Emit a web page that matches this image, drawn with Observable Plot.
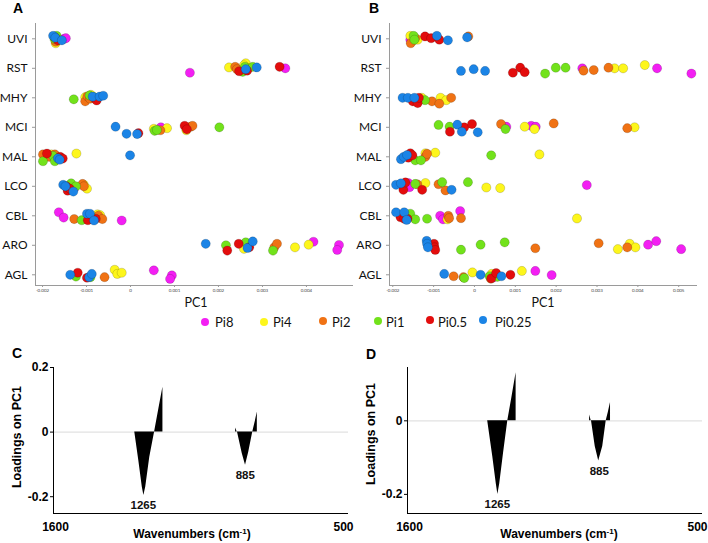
<!DOCTYPE html>
<html><head><meta charset="utf-8">
<script src="https://cdn.jsdelivr.net/npm/d3@7"></script>
<script src="https://cdn.jsdelivr.net/npm/@observablehq/plot@0.6"></script>
<style>
body{margin:0;background:#fff}
#fig{position:relative;width:708px;height:543px;overflow:hidden;background:#fff}
.panel{position:absolute}
#overlay{position:absolute;left:0;top:0}
</style>
</head><body><div id="fig"></div>
<script>
// ---------- data ----------
const categories = ["UVI","RST","MHY","MCI","MAL","LCO","CBL","ARO","AGL"]; // top to bottom
const treatments = ["Pi8","Pi4","Pi2","Pi1","Pi0.5","Pi0.25"];
const treatmentColors = ["#f31ff3","#fdf61c","#f07214","#72e21b","#e30d0d","#1b84e6"];
const xTicksA = [-0.002,-0.001,0,0.001,0.002,0.003,0.004];
const xTicksB = [-0.002,-0.001,0,0.001,0.002,0.003,0.004,0.005];

// rows: [category, treatment, PC1 score (x 1e-3), vertical jitter (category units)]
const scoresA = [
["UVI","Pi8",-1.51,0],["UVI","Pi8",-1.47,0.02],["UVI","Pi4",-1.70,-0.15],["UVI","Pi2",-1.70,-0.1],
["UVI","Pi1",-1.68,0.1],["UVI","Pi1",-1.73,0],["UVI","Pi0.5",-1.72,0.05],["UVI","Pi0.5",-1.65,-0.05],
["UVI","Pi0.25",-1.76,0.1],["UVI","Pi0.25",-1.71,0.04],["UVI","Pi0.25",-1.56,-0.05],
["RST","Pi8",1.35,-0.15],["RST","Pi8",3.52,0],["RST","Pi4",2.24,0.03],["RST","Pi4",2.62,0.17],["RST","Pi4",2.58,0.1],
["RST","Pi2",2.38,0.05],["RST","Pi2",2.42,-0.03],["RST","Pi2",2.68,0],["RST","Pi1",2.55,-0.12],["RST","Pi1",2.60,0.05],
["RST","Pi1",2.78,0.05],["RST","Pi0.5",2.47,-0.1],["RST","Pi0.5",2.65,-0.08],["RST","Pi0.5",3.39,0.05],
["RST","Pi0.25",2.62,-0.03],["RST","Pi0.25",2.87,0.03],
["MHY","Pi4",-1.03,0.02],["MHY","Pi4",-0.90,0.1],["MHY","Pi2",-1.03,-0.12],["MHY","Pi2",-0.98,0.05],["MHY","Pi2",-0.92,-0.03],
["MHY","Pi1",-1.29,-0.05],["MHY","Pi1",-0.93,0.08],["MHY","Pi1",-0.83,0.02],["MHY","Pi0.5",-0.80,-0.03],["MHY","Pi0.5",-0.77,-0.09],
["MHY","Pi0.25",-0.86,0.04],["MHY","Pi0.25",-0.70,0.04],["MHY","Pi0.25",-0.62,0.07],
["MCI","Pi8",0.69,0],["MCI","Pi4",0.53,-0.05],["MCI","Pi4",0.83,-0.03],["MCI","Pi4",1.27,-0.1],
["MCI","Pi2",0.68,-0.1],["MCI","Pi2",1.37,0.02],["MCI","Pi2",1.41,0.05],["MCI","Pi1",0.55,-0.12],["MCI","Pi1",0.60,-0.09],
["MCI","Pi1",2.02,0],["MCI","Pi0.5",0.18,-0.2],["MCI","Pi0.5",1.23,0.05],["MCI","Pi0.5",1.28,-0.07],
["MCI","Pi0.25",-0.34,0.02],["MCI","Pi0.25",-0.09,-0.22],["MCI","Pi0.25",0.15,-0.23],
["MAL","Pi4",-1.80,0.08],["MAL","Pi4",-1.23,0.11],["MAL","Pi2",-1.99,0.08],["MAL","Pi2",-1.85,0],["MAL","Pi2",-1.72,0.08],
["MAL","Pi1",-1.99,-0.15],["MAL","Pi1",-1.76,0.03],["MAL","Pi1",-1.72,-0.15],["MAL","Pi0.5",-1.90,0.11],["MAL","Pi0.5",-1.60,0],
["MAL","Pi0.5",-1.54,-0.06],["MAL","Pi0.25",-1.65,-0.05],["MAL","Pi0.25",-1.61,-0.1],["MAL","Pi0.25",-0.01,0.05],
["LCO","Pi8",-1.27,-0.05],["LCO","Pi4",-1.06,0.05],["LCO","Pi4",-0.99,-0.08],["LCO","Pi2",-1.09,0.08],["LCO","Pi2",-1.06,0],
["LCO","Pi1",-1.35,0.1],["LCO","Pi1",-1.24,0],["LCO","Pi0.5",-1.46,0],["LCO","Pi0.5",-1.43,-0.15],["LCO","Pi0.5",-1.38,-0.08],
["LCO","Pi0.25",-1.53,0.05],["LCO","Pi0.25",-1.48,0],["LCO","Pi0.25",-1.30,-0.18],
["CBL","Pi8",-1.63,0.12],["CBL","Pi8",-1.52,-0.06],["CBL","Pi8",-0.20,-0.16],["CBL","Pi4",-0.75,0.05],["CBL","Pi4",-0.69,0.02],
["CBL","Pi2",-1.28,-0.11],["CBL","Pi2",-0.73,0],["CBL","Pi2",-0.64,-0.11],["CBL","Pi1",-1.11,-0.15],["CBL","Pi1",-0.88,-0.05],
["CBL","Pi0.5",-0.97,-0.15],["CBL","Pi0.5",-0.79,-0.1],["CBL","Pi0.25",-0.99,0.07],["CBL","Pi0.25",-0.92,0.07],["CBL","Pi0.25",-0.83,-0.16],
["ARO","Pi8",4.16,0.12],["ARO","Pi8",4.74,0.01],["ARO","Pi8",4.70,-0.16],["ARO","Pi4",2.58,-0.12],["ARO","Pi4",3.74,-0.07],
["ARO","Pi4",4.05,0.02],["ARO","Pi2",3.27,-0.07],["ARO","Pi2",3.33,0.05],["ARO","Pi1",2.17,0],["ARO","Pi1",2.62,0.1],
["ARO","Pi1",3.24,-0.18],["ARO","Pi0.5",2.20,-0.18],["ARO","Pi0.5",2.46,0.05],["ARO","Pi0.5",2.70,-0.07],
["ARO","Pi0.25",1.71,0.05],["ARO","Pi0.25",2.66,-0.09],["ARO","Pi0.25",2.78,0.13],
["AGL","Pi8",0.53,0.15],["AGL","Pi8",0.94,-0.02],["AGL","Pi8",0.90,-0.14],["AGL","Pi4",-0.36,0.17],["AGL","Pi4",-0.30,0.03],
["AGL","Pi4",-0.20,0.07],["AGL","Pi2",-0.59,-0.08],["AGL","Pi1",-1.24,-0.06],["AGL","Pi1",-0.91,-0.08],
["AGL","Pi0.5",-1.20,0.07],["AGL","Pi0.5",-0.99,-0.1],["AGL","Pi0.25",-1.37,0],["AGL","Pi0.25",-0.94,-0.08],["AGL","Pi0.25",-0.88,0.03]
];

const scoresB = [
["UVI","Pi8",-1.57,-0.03],["UVI","Pi4",-1.57,0.1],["UVI","Pi4",-1.39,-0.03],["UVI","Pi4",-1.52,-0.08],
["UVI","Pi2",-1.56,-0.15],["UVI","Pi2",-1.45,0.03],["UVI","Pi2",-0.15,0.08],["UVI","Pi1",-1.49,0.1],["UVI","Pi1",-1.47,-0.03],
["UVI","Pi0.5",-1.21,0.08],["UVI","Pi0.5",-1.06,0.02],["UVI","Pi0.5",-0.86,-0.03],
["UVI","Pi0.25",-0.92,0.1],["UVI","Pi0.25",-0.65,-0.05],["UVI","Pi0.25",-0.18,0.05],
["RST","Pi8",2.64,0],["RST","Pi8",4.47,0],["RST","Pi8",5.31,-0.18],["RST","Pi4",3.43,0],["RST","Pi4",3.64,0],["RST","Pi4",4.17,0.11],
["RST","Pi2",2.67,-0.08],["RST","Pi2",2.92,-0.06],["RST","Pi2",3.28,0.02],["RST","Pi1",1.73,-0.18],["RST","Pi1",1.99,0.02],
["RST","Pi1",2.23,0.02],["RST","Pi0.5",0.94,-0.15],["RST","Pi0.5",1.12,0.02],["RST","Pi0.5",1.23,-0.13],
["RST","Pi0.25",-0.33,-0.09],["RST","Pi0.25",-0.02,-0.03],["RST","Pi0.25",0.26,-0.09],
["MHY","Pi4",-1.29,0],["MHY","Pi4",-0.83,0],["MHY","Pi4",-0.69,-0.08],["MHY","Pi2",-1.04,-0.12],["MHY","Pi2",-0.86,-0.2],
["MHY","Pi2",-0.57,0],["MHY","Pi1",-1.21,-0.08],["MHY","Pi0.5",-1.51,-0.12],["MHY","Pi0.5",-1.39,-0.18],["MHY","Pi0.5",-1.36,0],
["MHY","Pi0.25",-1.76,0],["MHY","Pi0.25",-1.63,0],["MHY","Pi0.25",-1.47,0],
["MCI","Pi8",0.78,0.02],["MCI","Pi8",1.39,0.05],["MCI","Pi8",1.50,0.02],["MCI","Pi4",1.23,0.02],["MCI","Pi4",1.47,-0.06],
["MCI","Pi4",3.92,0],["MCI","Pi2",0.65,0.11],["MCI","Pi2",1.94,0.13],["MCI","Pi2",3.74,-0.03],
["MCI","Pi1",-0.88,0.08],["MCI","Pi1",-0.61,0.02],["MCI","Pi1",0.76,-0.06],["MCI","Pi0.5",-0.60,-0.15],["MCI","Pi0.5",-0.25,0],
["MCI","Pi0.5",-0.06,0.11],["MCI","Pi0.25",-0.42,0.09],["MCI","Pi0.25",-0.31,-0.15],["MCI","Pi0.25",0.08,-0.17],
["MAL","Pi4",-1.20,0.12],["MAL","Pi4",-0.96,0.14],["MAL","Pi4",1.59,0.08],["MAL","Pi2",-1.20,0],["MAL","Pi2",-1.16,0.1],
["MAL","Pi1",-1.45,-0.12],["MAL","Pi1",-1.31,-0.12],["MAL","Pi1",0.41,0.05],["MAL","Pi0.5",-1.62,-0.03],["MAL","Pi0.5",-1.57,0.12],
["MAL","Pi0.5",-1.52,0.05],["MAL","Pi0.25",-1.80,-0.08],["MAL","Pi0.25",-1.73,0],["MAL","Pi0.25",-1.65,0.06],
["LCO","Pi8",-1.62,0.11],["LCO","Pi8",-1.59,-0.03],["LCO","Pi8",2.75,0.04],["LCO","Pi4",-1.20,0.11],["LCO","Pi4",0.29,-0.04],
["LCO","Pi4",0.63,-0.06],["LCO","Pi2",-1.40,0.07],["LCO","Pi2",-0.88,0.07],["LCO","Pi2",-0.71,-0.14],
["LCO","Pi1",-1.45,0.08],["LCO","Pi1",-0.79,0.14],["LCO","Pi1",-0.16,0.14],["LCO","Pi0.5",-1.74,-0.12],["LCO","Pi0.5",-1.69,0.13],
["LCO","Pi0.5",-1.28,-0.12],["LCO","Pi0.25",-1.92,0.05],["LCO","Pi0.25",-1.80,0.1],["LCO","Pi0.25",-0.56,-0.12],
["CBL","Pi8",-0.84,0],["CBL","Pi8",-0.77,-0.12],["CBL","Pi8",-0.35,0.16],["CBL","Pi4",-0.66,-0.12],["CBL","Pi4",2.51,-0.09],
["CBL","Pi2",-0.64,0],["CBL","Pi2",-0.62,-0.08],["CBL","Pi2",-0.33,-0.08],["CBL","Pi1",-1.57,0.07],["CBL","Pi1",-1.45,-0.12],
["CBL","Pi1",-1.16,-0.1],["CBL","Pi0.5",-1.81,-0.05],["CBL","Pi0.5",-1.72,-0.1],["CBL","Pi0.5",-1.64,-0.1],
["CBL","Pi0.25",-1.92,0.12],["CBL","Pi0.25",-1.72,0.12],["CBL","Pi0.25",-1.66,-0.14],
["ARO","Pi8",4.25,0.02],["ARO","Pi8",4.45,0.14],["ARO","Pi8",5.06,-0.13],["ARO","Pi4",3.51,-0.13],["ARO","Pi4",3.80,0.05],
["ARO","Pi4",3.94,-0.07],["ARO","Pi2",1.49,-0.1],["ARO","Pi2",3.04,0.07],["ARO","Pi2",3.74,-0.07],
["ARO","Pi1",-0.33,-0.15],["ARO","Pi1",0.15,0.02],["ARO","Pi1",0.74,0.1],["ARO","Pi0.5",-0.99,0.05],["ARO","Pi0.5",-0.98,-0.07],
["ARO","Pi0.5",-0.96,-0.16],["ARO","Pi0.25",-1.17,0.15],["ARO","Pi0.25",-1.16,0.05],["ARO","Pi0.25",-1.14,-0.07],
["AGL","Pi8",0.45,-0.1],["AGL","Pi8",1.49,0.13],["AGL","Pi8",1.89,-0.01],["AGL","Pi4",-0.05,0.08],["AGL","Pi4",0.42,0.03],
["AGL","Pi4",1.16,0.13],["AGL","Pi2",-0.51,-0.05],["AGL","Pi2",-0.27,-0.08],["AGL","Pi2",0.40,-0.13],
["AGL","Pi1",-0.25,-0.11],["AGL","Pi1",0.37,-0.05],["AGL","Pi1",0.56,-0.07],["AGL","Pi0.5",0.41,-0.12],["AGL","Pi0.5",0.53,0.06],
["AGL","Pi0.5",0.88,0],["AGL","Pi0.25",-0.74,0.03],["AGL","Pi0.25",0.15,0],["AGL","Pi0.25",0.66,-0.05]
];

// PC1 loading spectra (wavenumber cm-1, loading, band)
const wavenumbersC = [1297,1282,1269,1263,1256,1241,1223,1207,1192,1192, 921,921,915,914,896,884,872,857,848,840,840];
const loadingsC    = [0,-0.088,-0.17,-0.196,-0.17,-0.078,0,0.072,0.139,0, 0,0.013,0,0,-0.067,-0.103,-0.062,0,0.031,0.062,0];
const wavenumbersD = [1301,1282,1269,1263,1256,1242,1226,1211,1195,1195, 921,921,915,914,900,887,872,859,851,843,843];
const loadingsD    = [0,-0.098,-0.171,-0.2,-0.171,-0.089,0,0.062,0.131,0, 0,0.016,0,0,-0.07,-0.109,-0.07,0,0.023,0.05,0];
const bandOf = [1265,1265,1265,1265,1265,1265,1265,1265,1265,1265, 885,885,885,885,885,885,885,885,885,885,885];
const peakLabels = ["1265","885"];
const peakWavenumbers = [1265, 885];
const peakLoadingsC = [-0.196, -0.104];
const peakLoadingsD = [-0.2, -0.109];

// ---------- drawing ----------
const fig = document.getElementById("fig");
function place(node, left, top) {
  const d = document.createElement("div");
  d.className = "panel"; d.style.left = left + "px"; d.style.top = top + "px";
  d.appendChild(node); fig.appendChild(d);
}
const yDomain = [-0.363, 8.519];
function scatter(rows, xDomain, xTicks, marginRight) {
  const data = rows.map(r => ({cat: r[0], trt: r[1], pc1: r[2] / 1000, y: (categories.length - 1 - categories.indexOf(r[0])) + r[3]}))
    .sort((a, b) => treatments.indexOf(a.trt) - treatments.indexOf(b.trt));
  return Plot.plot({
    width: 354, height: 300,
    marginLeft: 35, marginRight, marginTop: 23, marginBottom: 15,
    style: {fontFamily: "Lato, sans-serif", background: "transparent", overflow: "visible"},
    x: {domain: xDomain, label: null},
    y: {domain: yDomain, label: null},
    color: {domain: treatments, range: treatmentColors},
    marks: [
      Plot.ruleX([xDomain[0]], {stroke: "#9a9a9a"}),
      Plot.ruleY([yDomain[0]], {stroke: "#9a9a9a"}),
      Plot.axisY({ticks: d3.range(categories.length), tickFormat: i => categories[categories.length - 1 - i],
        tickSize: 3, tickPadding: 5, stroke: "#9a9a9a", fill: "#111", fontSize: 12, label: null}),
      Plot.axisX({ticks: xTicks, tickFormat: d => String(d), tickSize: 2, tickPadding: 1,
        stroke: "#9a9a9a", fill: "#444", fontSize: 4.5, label: null}),
      Plot.dot(data, {x: "pc1", y: "y", fill: "trt", r: 4.6, stroke: "#000", strokeOpacity: 0.22, strokeWidth: 0.7})
    ]
  });
}
function loadings(wn, ld, peaksY, yDom, yTicks) {
  const spec = wn.map((w, i) => ({wn: w, v: ld[i], band: bandOf[i]}));
  const peaks = peakLabels.map((t, i) => ({label: t, wn: peakWavenumbers[i], v: peaksY[i]}));
  return Plot.plot({
    width: 354, height: 203,
    marginLeft: 53, marginRight: 6, marginTop: 27, marginBottom: 30,
    style: {fontFamily: "'Liberation Sans', Arial, sans-serif", background: "transparent", overflow: "visible"},
    x: {domain: [1600, 500], label: null},
    y: {domain: yDom, label: null},
    marks: [
      Plot.ruleY([0], {stroke: "#e2e2e2", strokeWidth: 1.2}),
      Plot.areaY(spec, {x: "wn", y1: 0, y2: "v", z: "band", fill: "black"}),
      Plot.ruleX([1600], {stroke: "black"}),
      Plot.ruleY([yDom[0]], {stroke: "black"}),
      Plot.axisY({ticks: yTicks, tickFormat: d => String(d), tickSize: 3, tickPadding: 2, fontSize: 12, fontWeight: "bold", label: null}),
      Plot.axisX({ticks: [1600], tickFormat: d => String(d), tickSize: 0, tickPadding: 9, dx: 2, fontSize: 12, fontWeight: "bold", label: null}),
      Plot.axisX({ticks: [500], tickFormat: d => String(d), tickSize: 0, tickPadding: 9, dx: -5, fontSize: 12, fontWeight: "bold", label: null}),
      Plot.text(peaks, {x: "wn", y: "v", text: "label", dy: 10, fontSize: 11.5, fontWeight: "bold", fill: "#111"})
    ]
  });
}

place(scatter(scoresA, [-0.00216, 0.00507], xTicksA, 1), 0, 0);
place(scatter(scoresB, [-0.00208, 0.00546], xTicksB, 11), 354, 0);
place(loadings(wavenumbersC, loadingsC, peakLoadingsC, [-0.252, 0.2], [0.2, 0, -0.2]), 0, 340);
place(loadings(wavenumbersD, loadingsD, peakLoadingsD, [-0.252, 0.145], [0, -0.2]), 354, 340);

// ---------- overlay text: panel letters, axis titles, legend ----------
const ov = d3.select(fig).append("svg").attr("id", "overlay").attr("width", 708).attr("height", 543)
  .style("pointer-events", "none");
const bold = "'Liberation Sans', Arial, sans-serif";
[["A", 13, 13], ["B", 369, 13], ["C", 12, 358], ["D", 366, 359]].forEach(([t, x, y]) =>
  ov.append("text").attr("x", x).attr("y", y).attr("font-family", bold).attr("font-weight", "bold")
    .attr("font-size", 14).text(t));
[[196, 307], [543, 307]].forEach(([x, y]) =>
  ov.append("text").attr("x", x).attr("y", y).attr("text-anchor", "middle").attr("font-family", "Lato, sans-serif")
    .attr("font-size", 12.5).attr("fill", "#111").text("PC1"));
[[192, 538], [559, 538]].forEach(([x, y]) => {
  const t = ov.append("text").attr("x", x).attr("y", y).attr("text-anchor", "middle").attr("font-family", bold)
    .attr("font-weight", "bold").attr("font-size", 12);
  t.append("tspan").text("Wavenumbers (cm");
  t.append("tspan").attr("dy", -4).attr("font-size", 8).text("-1");
  t.append("tspan").attr("dy", 4).text(")");
});
[[17, 437], [371, 434]].forEach(([x, y]) =>
  ov.append("text").attr("transform", `translate(${x},${y}) rotate(-90)`).attr("text-anchor", "middle")
    .attr("dy", "0.35em").attr("font-family", bold).attr("font-weight", "bold").attr("font-size", 12.5)
    .text("Loadings on PC1"));
const legendPos = [[205, 215, 322], [264, 273, 322], [323, 332, 321], [378, 386, 321], [430, 438, 320], [483, 495, 320]];
treatments.forEach((t, i) => {
  const [cx, tx, cy] = legendPos[i];
  ov.append("circle").attr("cx", cx).attr("cy", cy).attr("r", 4).attr("fill", treatmentColors[i]);
  ov.append("text").attr("x", tx).attr("y", 322).attr("dy", "0.35em").attr("font-family", "Lato, sans-serif")
    .attr("font-size", 13).attr("fill", "#111").text(t);
});
</script></body></html>
